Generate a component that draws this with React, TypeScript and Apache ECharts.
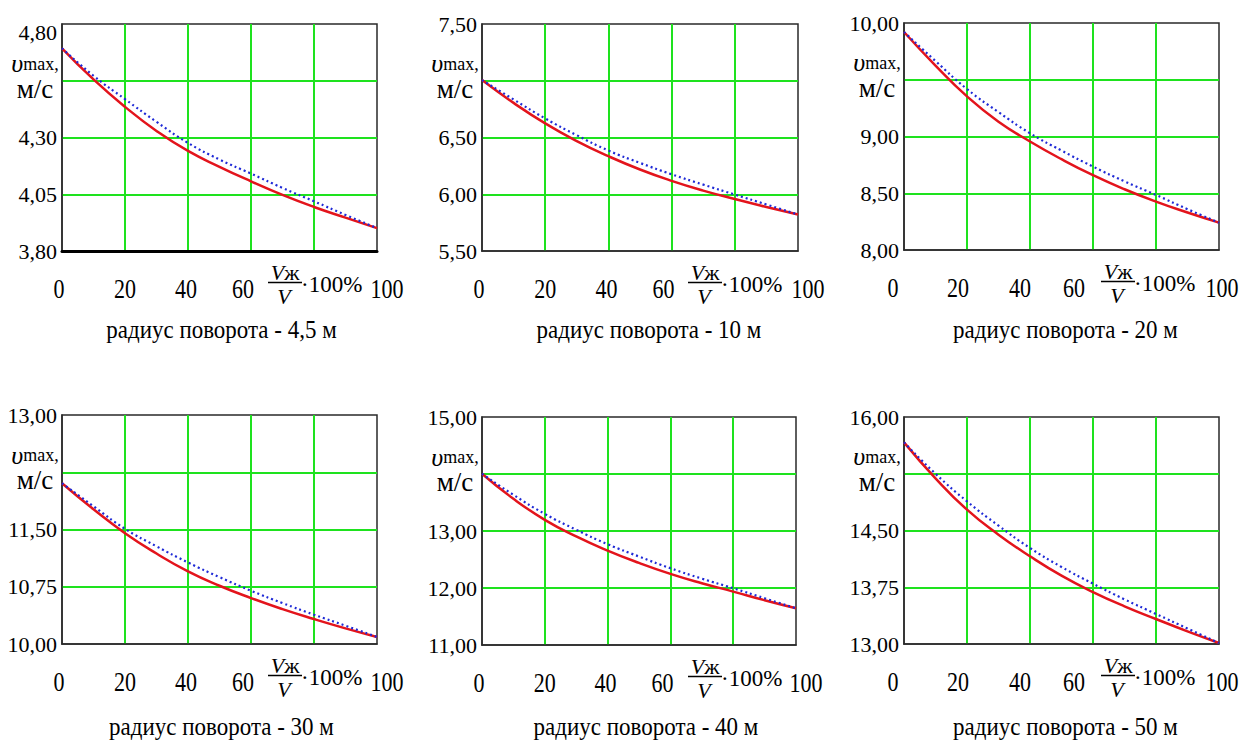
import React, { useEffect, useRef } from 'react';
import * as echarts from 'echarts';

// ---- data ----
const xs = [0, 10, 20, 30, 40, 50, 60, 70, 80, 90, 100];
const xTickLabels = [0, 20, 40, 60, 100];

const titles = [
  'радиус поворота - 4,5 м',
  'радиус поворота - 10 м',
  'радиус поворота - 20 м',
  'радиус поворота - 30 м',
  'радиус поворота - 40 м',
  'радиус поворота - 50 м',
];

const yMin = [3.8, 5.5, 8.0, 10.0, 11.0, 13.0];
const yMax = [4.8, 7.5, 10.0, 13.0, 15.0, 16.0];
const yStep = [0.25, 0.5, 0.5, 0.75, 1.0, 0.75];

const red45 = [4.693, 4.556, 4.435, 4.329, 4.241, 4.171, 4.107, 4.047, 3.994, 3.947, 3.901];
const blue45 = [4.693, 4.572, 4.469, 4.369, 4.276, 4.203, 4.141, 4.078, 4.019, 3.959, 3.901];
const red10 = [7.006, 6.805, 6.624, 6.468, 6.335, 6.218, 6.118, 6.032, 5.958, 5.888, 5.821];
const blue10 = [7.006, 6.835, 6.668, 6.52, 6.385, 6.276, 6.176, 6.085, 5.997, 5.91, 5.821];
const red20 = [9.921, 9.625, 9.353, 9.13, 8.956, 8.8, 8.659, 8.535, 8.426, 8.33, 8.241];
const blue20 = [9.921, 9.665, 9.418, 9.215, 9.029, 8.876, 8.735, 8.605, 8.485, 8.36, 8.241];
const red30 = [12.106, 11.765, 11.452, 11.185, 10.951, 10.763, 10.602, 10.457, 10.327, 10.205, 10.092];
const blue30 = [12.106, 11.805, 11.509, 11.28, 11.068, 10.876, 10.698, 10.536, 10.384, 10.24, 10.092];
const red40 = [14.004, 13.565, 13.196, 12.905, 12.657, 12.44, 12.247, 12.083, 11.937, 11.786, 11.644];
const blue40 = [14.004, 13.635, 13.3, 13.022, 12.769, 12.552, 12.347, 12.165, 11.996, 11.82, 11.644];
const red50 = [15.665, 15.19, 14.775, 14.445, 14.159, 13.903, 13.687, 13.498, 13.33, 13.167, 13.013];
const blue50 = [15.665, 15.25, 14.885, 14.564, 14.269, 14.018, 13.797, 13.59, 13.397, 13.205, 13.013];

const redSeries = [red45, red10, red20, red30, red40, red50];
const blueSeries = [blue45, blue10, blue20, blue30, blue40, blue50];

const FONT = "'Liberation Serif', 'Times New Roman', serif";
const GREEN = '#1ee21e';
const BORDER = '#2a2a2a';

const fmt = (v: number) => v.toFixed(2).replace('.', ',');

export default function App() {
  const ref = useRef<HTMLDivElement>(null);

  useEffect(() => {
    if (!ref.current) return;
    const chart = echarts.init(ref.current, null, { renderer: 'svg' });

    const grids = [
      { left: 62, top: 24, width: 315, height: 227 },
      { left: 482, top: 24, width: 316, height: 227 },
      { left: 904, top: 23, width: 315, height: 227 },
      { left: 62, top: 415, width: 315, height: 229 },
      { left: 482, top: 417, width: 314, height: 228 },
      { left: 904, top: 417, width: 315, height: 227 },
    ];
    const titleDx = [2, 9, 4, 2, 7, 4];
    const titleY = [329, 329, 329, 726, 726, 726];

    const shiftNormal: Record<number, number> = { 0: -3, 20: 0, 40: -2, 60: -8, 100: 10 };
    const shiftRight: Record<number, number> = { 0: -11, 20: -9, 40: -10, 60: -19, 100: 3 };

    const xAxes: any[] = [];
    const yAxes: any[] = [];
    const series: any[] = [];

    grids.forEach((g, i) => {
      xAxes.push({
        gridIndex: i,
        type: 'value',
        min: 0,
        max: 100,
        interval: 20,
        axisLine: { show: true, onZero: false, lineStyle: { color: i === 0 ? '#000' : BORDER, width: i === 0 ? 3 : 1.5 } },
        axisTick: { show: false },
        splitLine: { show: true, showMinLine: false, showMaxLine: false, lineStyle: { color: GREEN, width: 2 } },
        axisLabel: { show: false },
      });
      yAxes.push({
        gridIndex: i,
        type: 'value',
        min: yMin[i],
        max: yMax[i],
        interval: yStep[i],
        axisLine: { show: true, onZero: false, lineStyle: { color: BORDER, width: 1.5 } },
        axisTick: { show: false },
        splitLine: { show: true, showMinLine: false, showMaxLine: false, lineStyle: { color: GREEN, width: 2 } },
        axisLabel: {
          show: true,
          margin: 5,
          showMinLabel: true,
          showMaxLabel: true,
          fontFamily: FONT,
          fontSize: 22,
          color: '#000',
          formatter: (v: number, idx: number) => {
            if (idx === 3) return '';
            if (i === 0 && idx === 4) return `{t|${fmt(v)}}`;
            return `{n|${fmt(v)}}`;
          },
          rich: {
            n: { fontFamily: FONT, fontSize: 22, color: '#000' },
            t: { fontFamily: FONT, fontSize: 22, color: '#000', padding: [16, 0, 0, 0] },
          },
        },
      });

      series.push({
        type: 'line',
        xAxisIndex: i,
        yAxisIndex: i,
        data: xs.map((x, k) => [x, redSeries[i][k]]),
        symbol: 'none',
        smooth: 0.5,
        lineStyle: { color: '#e3141c', width: 2.5 },
        z: 3,
      });
      series.push({
        type: 'line',
        xAxisIndex: i,
        yAxisIndex: i,
        data: xs.map((x, k) => [x, blueSeries[i][k]]),
        symbol: 'none',
        smooth: 0.5,
        lineStyle: { color: '#1f2ad6', width: 2.2, type: [2, 3] },
        z: 4,
      });
    });

    chart.setOption({
      animation: false,
      backgroundColor: '#ffffff',
      textStyle: { fontFamily: FONT },
      grid: grids.map((g) => ({
        left: g.left,
        top: g.top,
        width: g.width,
        height: g.height,
        show: true,
        borderColor: BORDER,
        borderWidth: 1.5,
        backgroundColor: 'transparent',
        containLabel: false,
      })),
      xAxis: xAxes,
      yAxis: yAxes,
      series,
    });

    // texts placed from the axes' own scales
    const graphics: any[] = [];
    grids.forEach((g, i) => {
      const col = i % 3;
      const sh = col === 2 ? shiftRight : shiftNormal;
      const by = g.top + g.height;

      xTickLabels.forEach((t) => {
        const px = chart.convertToPixel({ xAxisIndex: i }, t) as number;
        graphics.push({
          type: 'text',
          x: px + (sh[t] ?? 0),
          y: by + 36.5,
          scaleY: 1.28,
          style: {
            text: String(t),
            fontFamily: FONT,
            fontSize: 22,
            fill: '#000',
            align: 'center',
            verticalAlign: 'middle',
          },
        });
      });

      // y-axis name in place of the 4th tick label
      const gy = chart.convertToPixel({ yAxisIndex: i }, yMin[i] + 3 * yStep[i]) as number;
      const nx = g.left - 27;
      graphics.push({
        type: 'text',
        x: nx,
        y: gy - 17,
        style: {
          text: '{v|υ}{m|max,}',
          align: 'center',
          verticalAlign: 'middle',
          rich: {
            v: { fontFamily: FONT, fontSize: 26, fontStyle: 'italic', fill: '#000' },
            m: { fontFamily: FONT, fontSize: 18, fill: '#000' },
          },
        },
      });
      graphics.push({
        type: 'text',
        x: nx,
        y: gy + 8,
        style: {
          text: 'м/с',
          fontFamily: FONT,
          fontSize: 27,
          fill: '#000',
          align: 'center',
          verticalAlign: 'middle',
        },
      });

      // fraction label  Vж/V · 100%
      const cx = g.left + (col === 2 ? 214 : 223);
      graphics.push({
        type: 'text',
        x: cx,
        y: by + 21,
        style: {
          text: '{i|V}{u|ж}',
          align: 'center',
          verticalAlign: 'middle',
          rich: {
            i: { fontFamily: FONT, fontSize: 22, fontStyle: 'italic', fill: '#000' },
            u: { fontFamily: FONT, fontSize: 22, fill: '#000' },
          },
        },
      });
      graphics.push({
        type: 'line',
        shape: { x1: cx - 17, y1: by + 31.5, x2: cx + 17, y2: by + 31.5 },
        style: { stroke: '#000', lineWidth: 1.4 },
      });
      graphics.push({
        type: 'text',
        x: cx - 1,
        y: by + 45,
        style: {
          text: 'V',
          fontFamily: FONT,
          fontSize: 22,
          fontStyle: 'italic',
          fill: '#000',
          align: 'center',
          verticalAlign: 'middle',
        },
      });
      graphics.push({
        type: 'text',
        x: cx + 16,
        y: by + 33.5,
        style: {
          text: '·100%',
          fontFamily: FONT,
          fontSize: 23,
          fill: '#000',
          align: 'left',
          verticalAlign: 'middle',
        },
      });

      graphics.push({
        type: 'text',
        x: g.left + g.width / 2 + titleDx[i],
        y: titleY[i],
        scaleY: 1.12,
        style: {
          text: titles[i],
          fontFamily: FONT,
          fontSize: 23,
          fill: '#000',
          align: 'center',
          verticalAlign: 'middle',
        },
      });
    });

    chart.setOption({ graphic: graphics });

    return () => {
      chart.dispose();
    };
  }, []);

  return (
    <div
      ref={ref}
      style={{ position: 'absolute', left: 0, top: 0, width: 1241, height: 742, background: '#fff' }}
    />
  );
}
